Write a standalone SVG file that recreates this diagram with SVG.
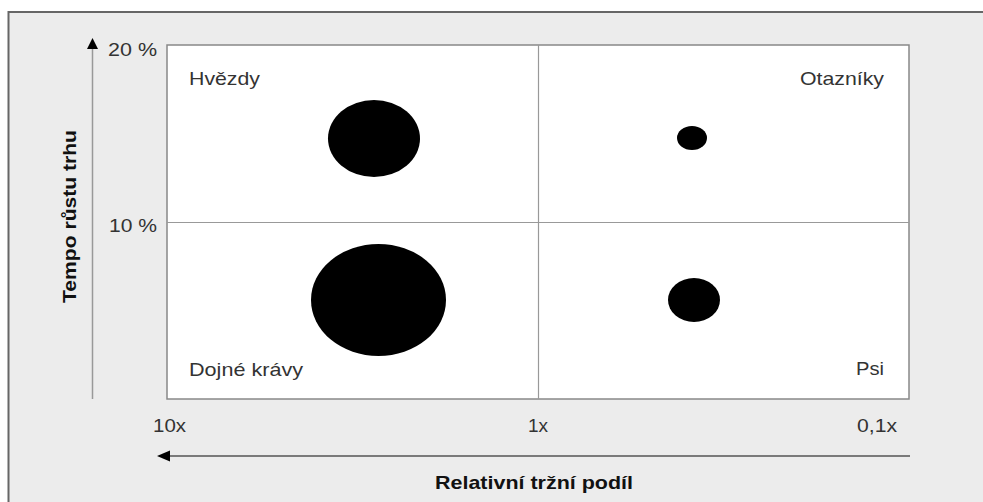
<svg xmlns="http://www.w3.org/2000/svg" width="983" height="502" viewBox="0 0 983 502">
  <style>
    .lbl { font-family: "Liberation Sans", Arial, sans-serif; font-size: 19px; fill: #333; }
    .title { font-family: "Liberation Sans", Arial, sans-serif; font-size: 19px; font-weight: bold; fill: #111; }
    .grid { stroke: #999; stroke-width: 1.2; fill: none; }
    .bubble { fill: #000; }
  </style>
  <rect x="0" y="0" width="983" height="502" fill="#ffffff"/>
  <g id="frame">
    <rect x="8.5" y="12" width="990" height="500" fill="#ececec" stroke="#666" stroke-width="2"/>
  </g>
  <g id="plot">
    <rect x="167" y="45" width="742" height="354" fill="#ffffff" stroke="#888" stroke-width="1.5"/>
    <line class="grid" x1="167" y1="222.5" x2="909" y2="222.5"/>
    <line class="grid" x1="538.5" y1="45" x2="538.5" y2="399"/>
  </g>
  <g id="quadrant-stars">
    <text class="lbl" x="189" y="85" textLength="71" lengthAdjust="spacingAndGlyphs">Hvězdy</text>
    <ellipse class="bubble" cx="374" cy="138.5" rx="46" ry="38.5"/>
  </g>
  <g id="quadrant-questions">
    <text class="lbl" x="884" y="85" text-anchor="end" textLength="84" lengthAdjust="spacingAndGlyphs">Otazníky</text>
    <ellipse class="bubble" cx="692" cy="138" rx="15" ry="12"/>
  </g>
  <g id="quadrant-cows">
    <text class="lbl" x="189" y="376" textLength="114" lengthAdjust="spacingAndGlyphs">Dojné krávy</text>
    <ellipse class="bubble" cx="378.5" cy="300" rx="67.5" ry="56"/>
  </g>
  <g id="quadrant-dogs">
    <text class="lbl" x="884" y="375" text-anchor="end" textLength="28" lengthAdjust="spacingAndGlyphs">Psi</text>
    <ellipse class="bubble" cx="694" cy="300" rx="26" ry="22"/>
  </g>
  <g id="ticks">
    <text class="lbl" x="157" y="56" text-anchor="end" textLength="49" lengthAdjust="spacingAndGlyphs">20 %</text>
    <text class="lbl" x="157" y="232" text-anchor="end" textLength="48" lengthAdjust="spacingAndGlyphs">10 %</text>
    <text class="lbl" x="153" y="432" textLength="33" lengthAdjust="spacingAndGlyphs">10x</text>
    <text class="lbl" x="538" y="432" text-anchor="middle">1x</text>
    <text class="lbl" x="897" y="432" text-anchor="end" textLength="40" lengthAdjust="spacingAndGlyphs">0,1x</text>
  </g>
  <g id="connectors">
    <line x1="92.5" y1="399" x2="92.5" y2="47" stroke="#999" stroke-width="1.5"/>
    <polygon points="92.5,38 87,49 98,49" fill="#000"/>
    <line x1="910" y1="456" x2="166" y2="456" stroke="#555" stroke-width="1.5"/>
    <polygon points="157,456 170,450.5 170,461.5" fill="#000"/>
  </g>
  <g id="axis-titles">
    <text class="title" x="534" y="489" text-anchor="middle" textLength="198" lengthAdjust="spacingAndGlyphs">Relativní tržní podíl</text>
    <text class="title" transform="translate(76,216.5) rotate(-90)" x="0" y="0" text-anchor="middle" textLength="173" lengthAdjust="spacingAndGlyphs">Tempo růstu trhu</text>
  </g>
</svg>
